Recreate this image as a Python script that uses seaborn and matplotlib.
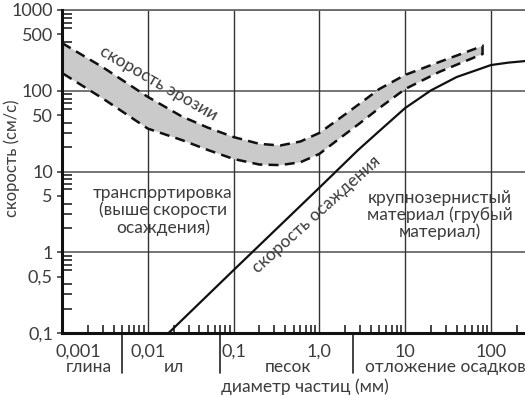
import numpy as np
import pandas as pd
import seaborn as sns
import matplotlib
matplotlib.use("Agg")
import matplotlib.pyplot as plt
from matplotlib.ticker import FixedLocator, NullFormatter
import matplotlib.transforms as mtransforms

# ---------------- data ----------------
band_x = [0.001, 0.003, 0.01, 0.025, 0.05, 0.1, 0.2, 0.35, 0.6, 1.0, 1.75, 3.0, 5.0, 10, 25, 80]
erosion_upper = [390, 195, 84, 48, 35, 26.7, 22, 21, 23.5, 30, 46, 70, 105, 157, 227, 358]
erosion_lower = [166, 80, 34, 24.5, 18.5, 14.3, 12.2, 12, 13, 16.5, 26, 40, 61, 105, 171, 285]

settle_x = [0.0175, 0.1, 1.0, 2.84, 5, 10, 20, 40, 70, 100, 160, 250]
settle_v = [0.1, 0.6, 6.3, 18.5, 31.7, 61, 101, 148, 182, 208, 223, 233]

x_ticks = [0.001, 0.01, 0.1, 1, 10, 100]
x_tick_labels = ["0,001", "0,01", "0,1", "1,0", "10", "100"]
y_ticks = [0.1, 0.5, 1, 5, 10, 50, 100, 500, 1000]
y_tick_labels = ["0,1", "0,5", "1", "5", "10", "50", "100", "500", "1000"]

class_bounds = [0.005, 0.07, 2.5]
class_names = ["глина", "ил", "песок", "отложение осадков"]
class_label_x = [0.00206, 0.02, 0.425, 29.3]

# ---------------- style ----------------
sns.set_style("white")
plt.rcParams["font.family"] = ["Lato", "DejaVu Sans"]
FW = "normal"
TXT = "#3c3c3c"
FS = 12.5

fig = plt.figure(figsize=(5.25, 3.96), dpi=100)
ax = fig.add_axes([62 / 525, 1 - 333 / 396, 1 - 62 / 525, 323 / 396])
ax.set_xscale("log")
ax.set_yscale("log")
ax.set_xlim(0.001, 250)
ax.set_ylim(0.1, 1000)

# grid lines
for yv in [1, 10, 100, 1000]:
    ax.axhline(yv, color="#6a6a6a", lw=1.3, zorder=1)
for xv in x_ticks[1:]:
    ax.axvline(xv, color="#333333", lw=1.0, zorder=1)

# erosion band (closed dashed polygon)
poly_x = band_x + band_x[::-1]
poly_y = erosion_upper + erosion_lower[::-1]
ax.fill(poly_x, poly_y, facecolor="#cacaca", edgecolor="#111111",
        linestyle=(0, (4, 2.5)), linewidth=1.8, zorder=2)

# settling velocity line
df = pd.DataFrame({"d": settle_x, "v": settle_v})
sns.lineplot(data=df, x="d", y="v", ax=ax, color="#111111", lw=1.6, zorder=3,
             estimator=None, sort=False)

# spines
ax.spines["right"].set_visible(False)
ax.spines["top"].set_color("#6a6a6a")
ax.spines["top"].set_linewidth(1.3)
for s in ["left", "bottom"]:
    ax.spines[s].set_linewidth(2.2)
    ax.spines[s].set_color("#111111")
    ax.spines[s].set_zorder(5)

# ticks
ax.xaxis.set_major_locator(FixedLocator(x_ticks))
ax.set_xticklabels(x_tick_labels)
ax.yaxis.set_major_locator(FixedLocator(y_ticks))
ax.set_yticklabels(y_tick_labels)
xminor = [m * 10.0 ** e for e in range(-3, 3) for m in range(2, 10) if m * 10.0 ** e < 250]
yminor = [m * 10.0 ** e for e in range(-1, 3) for m in range(2, 10)] + [1000]
ax.xaxis.set_minor_locator(FixedLocator(xminor))
ax.yaxis.set_minor_locator(FixedLocator(yminor))
ax.xaxis.set_minor_formatter(NullFormatter())
ax.yaxis.set_minor_formatter(NullFormatter())
ax.tick_params(axis="x", which="major", direction="in", length=0, pad=8,
               labelsize=13, labelcolor=TXT)
ax.tick_params(axis="x", which="minor", direction="in", length=6, width=1.1,
               color="#111111", bottom=True)
ax.tick_params(axis="y", which="major", direction="out", length=3.5, width=1.1,
               pad=3, labelsize=13, labelcolor=TXT, color="#333333", left=True)
ax.tick_params(axis="y", which="minor", direction="in", length=7, width=1.1,
               color="#111111", left=True)
for lab in ax.get_xticklabels() + ax.get_yticklabels():
    lab.set_fontweight(FW)
first = ax.get_xticklabels()[0]
first.set_horizontalalignment("left")
first.set_transform(first.get_transform() +
                    mtransforms.ScaledTranslation(-7 / 100, 0, fig.dpi_scale_trans))

# class separators and labels
trans = mtransforms.blended_transform_factory(ax.transData, ax.transAxes)
for b in class_bounds:
    ax.plot([b, b], [0, -0.125], transform=trans, color="#222222", lw=1.2,
            clip_on=False)
for name, xl in zip(class_names, class_label_x):
    ax.text(xl, -0.105, name, transform=trans, ha="center", va="center",
            fontsize=FS, color=TXT, fontweight=FW)

ax.text(0.525, -0.167, "диаметр частиц (мм)", transform=ax.transAxes,
        ha="center", va="center", fontsize=FS, color=TXT, fontweight=FW)
ax.text(-0.108, 0.54, "скорость (см/с)", transform=ax.transAxes, rotation=90,
        ha="center", va="center", fontsize=12, color=TXT, fontweight=FW)

# in-plot annotations
ax.text(0.0134, 125, "скорость эрозии", rotation=-30, rotation_mode="anchor",
        ha="center", va="center", fontsize=FS, color=TXT, fontweight=FW, zorder=4)
ax.text(0.92, 2.9, "скорость осаждения", rotation=42, rotation_mode="anchor",
        ha="center", va="center", fontsize=FS, color=TXT, fontweight=FW, zorder=4)
ax.text(0.015, 3.3, "транспортировка\n(выше скорости\nосаждения)",
        ha="center", va="center", fontsize=FS, color=TXT, fontweight=FW,
        linespacing=1.05, zorder=4)
ax.text(25.5, 2.9, "крупнозернистый\nматериал (грубый\nматериал)",
        ha="center", va="center", fontsize=FS, color=TXT, fontweight=FW,
        linespacing=1.05, zorder=4)

ax.set_xlabel("")
ax.set_ylabel("")
fig.savefig("out.png", dpi=100)
